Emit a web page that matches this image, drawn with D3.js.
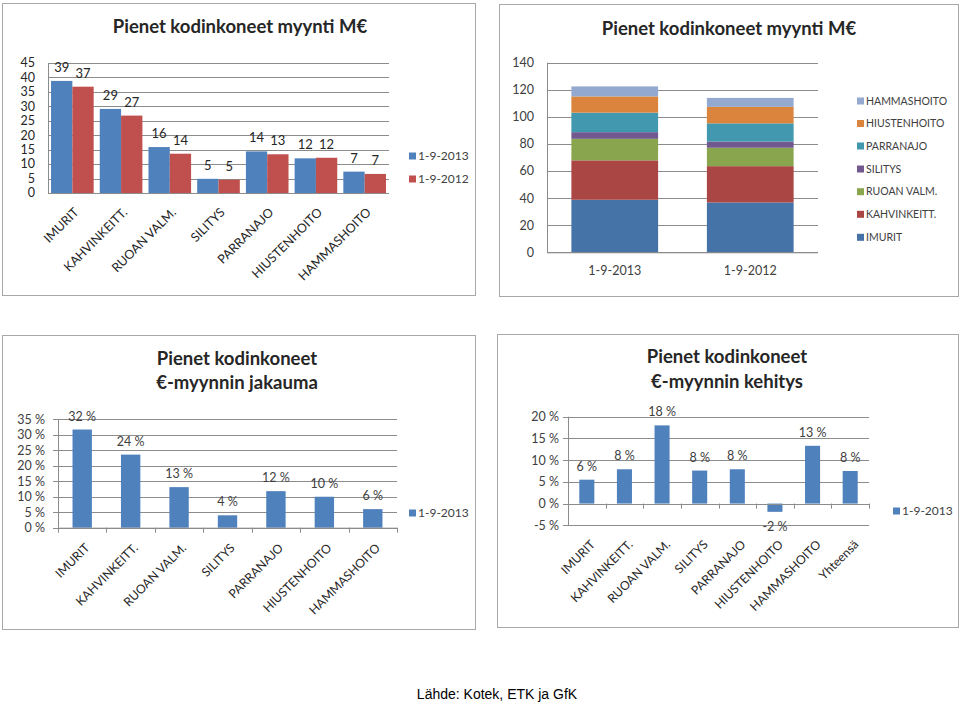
<!DOCTYPE html>
<html><head><meta charset="utf-8">
<script src="https://cdn.jsdelivr.net/npm/d3@7/dist/d3.min.js"></script>
<style>
body{margin:0;background:#fff}
svg{display:block}
text{font-family:Lato,"Open Sans",sans-serif}
</style>
</head><body>
<svg width="960" height="704"></svg>
<script>
// ---------- DATA ----------
const categories = ["IMURIT","KAHVINKEITT.","RUOAN VALM.","SILITYS","PARRANAJO","HIUSTENHOITO","HAMMASHOITO"];
const periods = ["1-9-2013","1-9-2012"];
const sales2013 = [38.8, 29.1, 15.9, 4.9, 14.4, 12.0, 7.4];
const sales2012 = [36.8, 26.8, 13.6, 4.6, 13.4, 12.2, 6.6];
const salesTicks = [0,5,10,15,20,25,30,35,40,45];
const stackTicks = [0,20,40,60,80,100,120,140];
const share2013 = [31.7, 23.6, 13.1, 4.0, 11.8, 10.0, 6.0];
const shareTicks = [0,5,10,15,20,25,30,35];
const growthCategories = ["IMURIT","KAHVINKEITT.","RUOAN VALM.","SILITYS","PARRANAJO","HIUSTENHOITO","HAMMASHOITO","Yhteensä"];
const growth2013 = [5.5, 7.9, 18.0, 7.6, 7.9, -1.9, 13.3, 7.5];
const growthTicks = [-5,0,5,10,15,20];
const titleSales = ["Pienet kodinkoneet myynti M€"];
const titleShare = ["Pienet kodinkoneet","€-myynnin jakauma"];
const titleGrowth = ["Pienet kodinkoneet","€-myynnin kehitys"];
const sourceText = "Lähde: Kotek, ETK ja GfK";

// ---------- STYLE ----------
const C_BLUE = "#4F81BD", C_RED = "#C0504D";
const stackColors = ["#4572A7","#AA4643","#89A54E","#71588F","#4198AF","#DB843D","#93A9CF"];
const GRID = "#8c8c8c", FRAME = "#a8a8a8", TXT = "#262626", TXT2 = "#404040";
const pct = v => v + " %";

const svg = d3.select("svg");

function frame(x,y,w,h){
  svg.append("rect").attr("x",x+0.5).attr("y",y+0.5).attr("width",w).attr("height",h)
    .attr("fill","#fff").attr("stroke",FRAME).attr("stroke-width",1);
}
function title(lines,cx,y0,lh,size){
  lines.forEach((t,i)=>svg.append("text").attr("x",cx).attr("y",y0+i*lh)
    .attr("text-anchor","middle").attr("font-size",size).attr("font-weight","bold")
    .attr("fill",TXT).text(t));
}
function yGrid(y,ticks,x0,x1,fmt,labelX,size,tickLen,color){
  const g = svg.append("g");
  const ax = d3.axisLeft(y).tickValues(ticks).tickSize(-(x1-x0)).tickFormat("");
  const ga = g.append("g").attr("transform",`translate(${x0},0)`).call(ax);
  ga.select(".domain").remove();
  ga.selectAll(".tick line").attr("stroke",GRID).attr("shape-rendering","crispEdges");
  g.append("line").attr("x1",x0+0.5).attr("x2",x0+0.5).attr("y1",y.range()[1]).attr("y2",y.range()[0])
    .attr("stroke",GRID);
  if(tickLen){
    ticks.forEach(t=>g.append("line").attr("x1",x0-tickLen).attr("x2",x0)
      .attr("y1",Math.round(y(t))+0.5).attr("y2",Math.round(y(t))+0.5).attr("stroke",GRID));
  }
  ticks.forEach(t=>g.append("text").attr("x",labelX).attr("y",y(t)).attr("dy","0.35em")
    .attr("text-anchor","end").attr("font-size",size).attr("fill",color||TXT).text(fmt(t)));
}
function xLabels(cats,cx,baseY,dx,dy,size){
  cats.forEach((c,i)=>svg.append("text")
    .attr("transform",`translate(${cx(i)+dx},${baseY+dy}) rotate(-45)`)
    .attr("text-anchor","end").attr("dy","0.35em").attr("font-size",size).attr("fill",TXT).text(c));
}
function legend(items,x,ys,size){
  items.forEach((it,i)=>{
    svg.append("rect").attr("x",x).attr("y",ys[i]-3.5).attr("width",7).attr("height",7).attr("fill",it.color);
    svg.append("text").attr("x",x+9).attr("y",ys[i]).attr("dy","0.35em").attr("font-size",size)
      .attr("fill",TXT2).text(it.name);
  });
}

// ---------- CHART 1: grouped bars ----------
(function(){
  frame(2,3,473,292);
  title(titleSales,240,33,0,18.5);
  const x0=48,x1=389;
  const y = d3.scaleLinear().domain([0,45]).range([193,63]);
  yGrid(y,salesTicks,x0,x1,d=>d,35,12.5,0,TXT);
  const xb = d3.scaleBand().domain(categories).range([x0,x1]).paddingInner(0.125).paddingOuter(0.0625);
  const xs = d3.scaleBand().domain(periods).range([0,xb.bandwidth()]);
  const data = [sales2013,sales2012];
  const colors=[C_BLUE,C_RED];
  categories.forEach((c,i)=>{
    periods.forEach((p,j)=>{
      const v=data[j][i];
      const bx=xb(c)+xs(p);
      svg.append("rect").attr("x",bx).attr("y",y(v)).attr("width",xs.bandwidth()).attr("height",y(0)-y(v)).attr("fill",colors[j]);
      svg.append("text").attr("x",bx+xs.bandwidth()/2).attr("y",y(v)-9).attr("text-anchor","middle")
        .attr("font-size",13).attr("fill",TXT).text(Math.round(v));
    });
  });
  svg.append("line").attr("x1",x0).attr("x2",x1).attr("y1",y(0)+0.5).attr("y2",y(0)+0.5).attr("stroke",GRID);
  xLabels(categories,i=>xb(categories[i])+xb.bandwidth()/2,193,4,17,12.5);
  legend([{name:periods[0],color:C_BLUE},{name:periods[1],color:C_RED}],409,[156,179],12);
})();

// ---------- CHART 2: stacked bars ----------
(function(){
  frame(499,4,459,292);
  title(titleSales,729,35,0,18.5);
  const x0=547,x1=818;
  const y = d3.scaleLinear().domain([0,140]).range([252.3,62.7]);
  yGrid(y,stackTicks,x0,x1,d=>d,534,12.5,0,TXT2);
  const xb = d3.scaleBand().domain(periods).range([x0,x1]).paddingInner(0.36).paddingOuter(0.18);
  const rows = periods.map((p,j)=>{const o={period:p};categories.forEach((c,i)=>o[c]=(j?sales2012:sales2013)[i]);return o;});
  const stack = d3.stack().keys(categories)(rows);
  stack.forEach((layer,k)=>{
    layer.forEach(d=>{
      svg.append("rect").attr("x",xb(d.data.period)).attr("y",y(d[1])).attr("width",xb.bandwidth())
        .attr("height",y(d[0])-y(d[1])).attr("fill",stackColors[k]);
    });
  });
  svg.append("line").attr("x1",x0).attr("x2",x1).attr("y1",y(0)+0.5).attr("y2",y(0)+0.5).attr("stroke",GRID);
  periods.forEach(p=>svg.append("text").attr("x",xb(p)+xb.bandwidth()/2).attr("y",271).attr("dy","0.35em")
    .attr("text-anchor","middle").attr("font-size",12.5).attr("fill",TXT2).text(p));
  const items = categories.map((c,i)=>({name:c,color:stackColors[i]})).reverse();
  legend(items,857,[101,123.5,146,169,191.7,214.3,237.3],10.5);
})();

// ---------- CHART 3: share ----------
(function(){
  frame(2,335,473,294);
  title(titleShare,237,365,24,18.5);
  const x0=58,x1=397;
  const y = d3.scaleLinear().domain([0,35]).range([527.7,419.3]);
  yGrid(y,shareTicks,x0,x1,pct,45,12.5,5,TXT2);
  const xb = d3.scaleBand().domain(categories).range([x0,x1]).paddingInner(0.6).paddingOuter(0.3);
  const step = (x1-x0)/categories.length;
  categories.forEach((c,i)=>{
    const v=share2013[i];
    svg.append("rect").attr("x",xb(c)).attr("y",y(v)).attr("width",xb.bandwidth()).attr("height",y(0)-y(v)).attr("fill",C_BLUE);
    svg.append("text").attr("x",xb(c)+xb.bandwidth()/2).attr("y",y(v)-9).attr("text-anchor","middle")
      .attr("font-size",12.5).attr("fill",TXT2).text(pct(Math.round(v)));
  });
  svg.append("line").attr("x1",x0).attr("x2",x1).attr("y1",y(0)+0.5).attr("y2",y(0)+0.5).attr("stroke",GRID);
  d3.range(categories.length+1).forEach(i=>svg.append("line").attr("x1",Math.round(x0+i*step)+0.5).attr("x2",Math.round(x0+i*step)+0.5)
    .attr("y1",y(0)).attr("y2",y(0)+5).attr("stroke",GRID));
  xLabels(categories,i=>xb(categories[i])+xb.bandwidth()/2,527.7,5,18,12.2);
  legend([{name:periods[0],color:C_BLUE}],409,[513],12);
})();

// ---------- CHART 4: growth ----------
(function(){
  frame(497,334,461,293);
  title(titleGrowth,727,363,25,18.5);
  const x0=568,x1=869;
  const y = d3.scaleLinear().domain([-5,20]).range([525.3,416.7]);
  yGrid(y,growthTicks,x0,x1,pct,559,12.5,5,TXT2);
  const xb = d3.scaleBand().domain(growthCategories).range([x0,x1]).paddingInner(0.6).paddingOuter(0.3);
  const step = (x1-x0)/growthCategories.length;
  growthCategories.forEach((c,i)=>{
    const v=growth2013[i];
    const top=y(Math.max(0,v)), bot=y(Math.min(0,v));
    svg.append("rect").attr("x",xb(c)).attr("y",top).attr("width",xb.bandwidth()).attr("height",bot-top).attr("fill",C_BLUE);
    svg.append("text").attr("x",xb(c)+xb.bandwidth()/2).attr("y",v>=0?y(v)-9:y(v)+19).attr("text-anchor","middle")
      .attr("font-size",12.5).attr("fill",TXT2).text(pct(Math.round(v)));
  });
  svg.append("line").attr("x1",x0).attr("x2",x1).attr("y1",Math.round(y(0))+0.5).attr("y2",Math.round(y(0))+0.5).attr("stroke",GRID);
  d3.range(growthCategories.length+1).forEach(i=>svg.append("line").attr("x1",Math.round(x0+i*step)+0.5).attr("x2",Math.round(x0+i*step)+0.5)
    .attr("y1",y(0)).attr("y2",y(0)+5).attr("stroke",GRID));
  xLabels(growthCategories,i=>xb(growthCategories[i])+xb.bandwidth()/2,525.3,6,17,12.2);
  legend([{name:periods[0],color:C_BLUE}],893,[511],12);
})();

// ---------- SOURCE ----------
svg.append("text").attr("x",497).attr("y",699).attr("text-anchor","middle")
  .style("font-family","'Liberation Sans',Arial,sans-serif").attr("font-size",14).attr("fill","#000").text(sourceText);
</script>
</body></html>
